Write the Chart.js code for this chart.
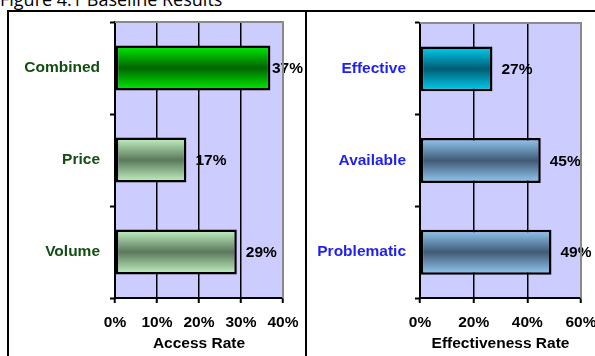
<!DOCTYPE html>
<html>
<head>
<meta charset="utf-8">
<script src="https://cdn.jsdelivr.net/npm/chart.js@4"></script>
<style>
  html, body { margin: 0; padding: 0; background: #fff; overflow: hidden; }
  body { width: 595px; height: 356px; position: relative; }
  #title { position: absolute; left: 0; top: -10px; font: 18px "Open Sans", sans-serif; line-height: 18px; color: #000; white-space: nowrap; }
  #frame { position: absolute; left: 7px; top: 10px; width: 640px; height: 400px; border-left: 2px solid #000; border-top: 2px solid #000; }
  #divider { position: absolute; left: 305px; top: 10px; width: 2px; height: 346px; background: #000; }
  canvas { position: absolute; top: 0; }
  #accessChart { left: 0; }
  #effChart { left: 306px; }
</style>
</head>
<body>
<div id="title">Figure 4.1 Baseline Results</div>
<div id="frame"></div>
<div id="divider"></div>
<canvas id="accessChart" width="306" height="356"></canvas>
<canvas id="effChart" width="289" height="356"></canvas>
<script>
// Access rates by baseline group
const accessCategories = ['Combined', 'Price', 'Volume'];
const accessValues = [37, 17, 29];
const accessTicks = ['0%', '10%', '20%', '30%', '40%'];

// Effectiveness rates by baseline group
const effCategories = ['Effective', 'Available', 'Problematic'];
const effValues = [27, 45, 49];
const effTicks = ['0%', '20%', '40%', '60%'];

const FONT = "'Liberation Sans', Arial, sans-serif";
const FONT_SIZE = 15.5;

// Bar fills: [edge colour, centre colour] for a vertical sheen
const accessShades = [
  ['#00f000', '#006400'],
  ['#c6f5c6', '#5b795b'],
  ['#c6f5c6', '#5b795b']
];
const effShades = [
  ['#00d2f2', '#005c74'],
  ['#94ccf4', '#405a76'],
  ['#94ccf4', '#405a76']
];

// Lavender plot area with grey top/right edges
const plotBackground = {
  id: 'plotBackground',
  beforeDraw(chart) {
    const { ctx, chartArea: a } = chart;
    ctx.save();
    ctx.fillStyle = '#ccccff';
    ctx.fillRect(a.left, a.top, a.right - a.left, a.bottom - a.top);
    ctx.restore();
  },
  afterDraw(chart) {
    const { ctx, chartArea: a } = chart;
    ctx.save();
    ctx.strokeStyle = '#8a8a8a';
    ctx.lineWidth = 2;
    ctx.beginPath();
    ctx.moveTo(a.left, a.top);
    ctx.lineTo(a.right, a.top);
    ctx.lineTo(a.right, a.bottom);
    ctx.stroke();
    ctx.restore();
  }
};

// Percent labels to the right of each bar
const valueLabels = {
  id: 'valueLabels',
  afterDatasetsDraw(chart) {
    const { ctx } = chart;
    const meta = chart.getDatasetMeta(0);
    const values = chart.data.datasets[0].data;
    ctx.save();
    ctx.font = 'bold ' + FONT_SIZE + 'px ' + FONT;
    ctx.fillStyle = '#000';
    ctx.textBaseline = 'middle';
    ctx.textAlign = 'left';
    meta.data.forEach((bar, i) => {
      const text = values[i] + '%';
      const w = ctx.measureText(text).width;
      const x = Math.min(bar.x + 9, chart.width - 3 - w);
      ctx.fillText(text, x, bar.y + 1);
    });
    ctx.restore();
  }
};

function makeChart(id, categories, values, ticks, max, step, shades, labelColor, axisTitle, axisWidth, pad, labelPad) {
  const barFill = (c) => {
    const chart = c.chart;
    const y = chart.scales.y;
    if (!y || !chart.chartArea) return shades[c.dataIndex][0];
    const center = y.getPixelForValue(c.dataIndex);
    const half = (chart.chartArea.bottom - chart.chartArea.top) / categories.length * 0.49 / 2;
    const g = chart.ctx.createLinearGradient(0, center - half, 0, center + half);
    const [edge, mid] = shades[c.dataIndex];
    g.addColorStop(0, edge);
    g.addColorStop(0.5, mid);
    g.addColorStop(1, edge);
    return g;
  };

  return new Chart(document.getElementById(id), {
    type: 'bar',
    data: {
      labels: categories,
      datasets: [{
        data: values,
        backgroundColor: barFill,
        borderColor: '#000',
        borderWidth: 2.5,
        borderSkipped: false,
        barPercentage: 0.49,
        categoryPercentage: 1
      }]
    },
    options: {
      indexAxis: 'y',
      responsive: false,
      animation: false,
      devicePixelRatio: 1,
      layout: { padding: pad },
      plugins: { legend: { display: false }, tooltip: { enabled: false } },
      scales: {
        x: {
          min: 0,
          max: max,
          ticks: {
            stepSize: step,
            color: '#000',
            padding: 10,
            font: { family: FONT, size: FONT_SIZE, weight: 'bold' },
            callback: (v, i) => ticks[i]
          },
          grid: { color: '#000', lineWidth: 1.5, tickLength: 5, tickColor: '#000', tickWidth: 2 },
          border: { color: '#000', width: 2 },
          title: {
            display: true,
            text: axisTitle,
            color: '#000',
            font: { family: FONT, size: FONT_SIZE, weight: 'bold' },
            padding: { top: 0, bottom: 3 }
          },
          afterFit(scale) {
            scale.height = 356 - 298;
            scale.paddingLeft = 0;
            scale.paddingRight = 0;
          }
        },
        y: {
          ticks: {
            color: labelColor,
            padding: labelPad,
            font: { family: FONT, size: FONT_SIZE, weight: 'bold' }
          },
          grid: {
            offset: true,
            drawOnChartArea: false,
            tickLength: 5,
            tickColor: '#000',
            tickWidth: 2
          },
          border: { color: '#000', width: 2 },
          afterFit(scale) { scale.width = axisWidth; }
        }
      }
    },
    plugins: [plotBackground, valueLabels]
  });
}

makeChart('accessChart', accessCategories, accessValues, accessTicks, 40, 10,
  accessShades, '#124d12', 'Access Rate', 115, { top: 22, right: 23, bottom: 0, left: 0 }, 10);
makeChart('effChart', effCategories, effValues, effTicks, 60, 20,
  effShades, '#1f1ff5', 'Effectiveness Rate', 114, { top: 23, right: 14, bottom: 0, left: 0 }, 9);
</script>
</body>
</html>
